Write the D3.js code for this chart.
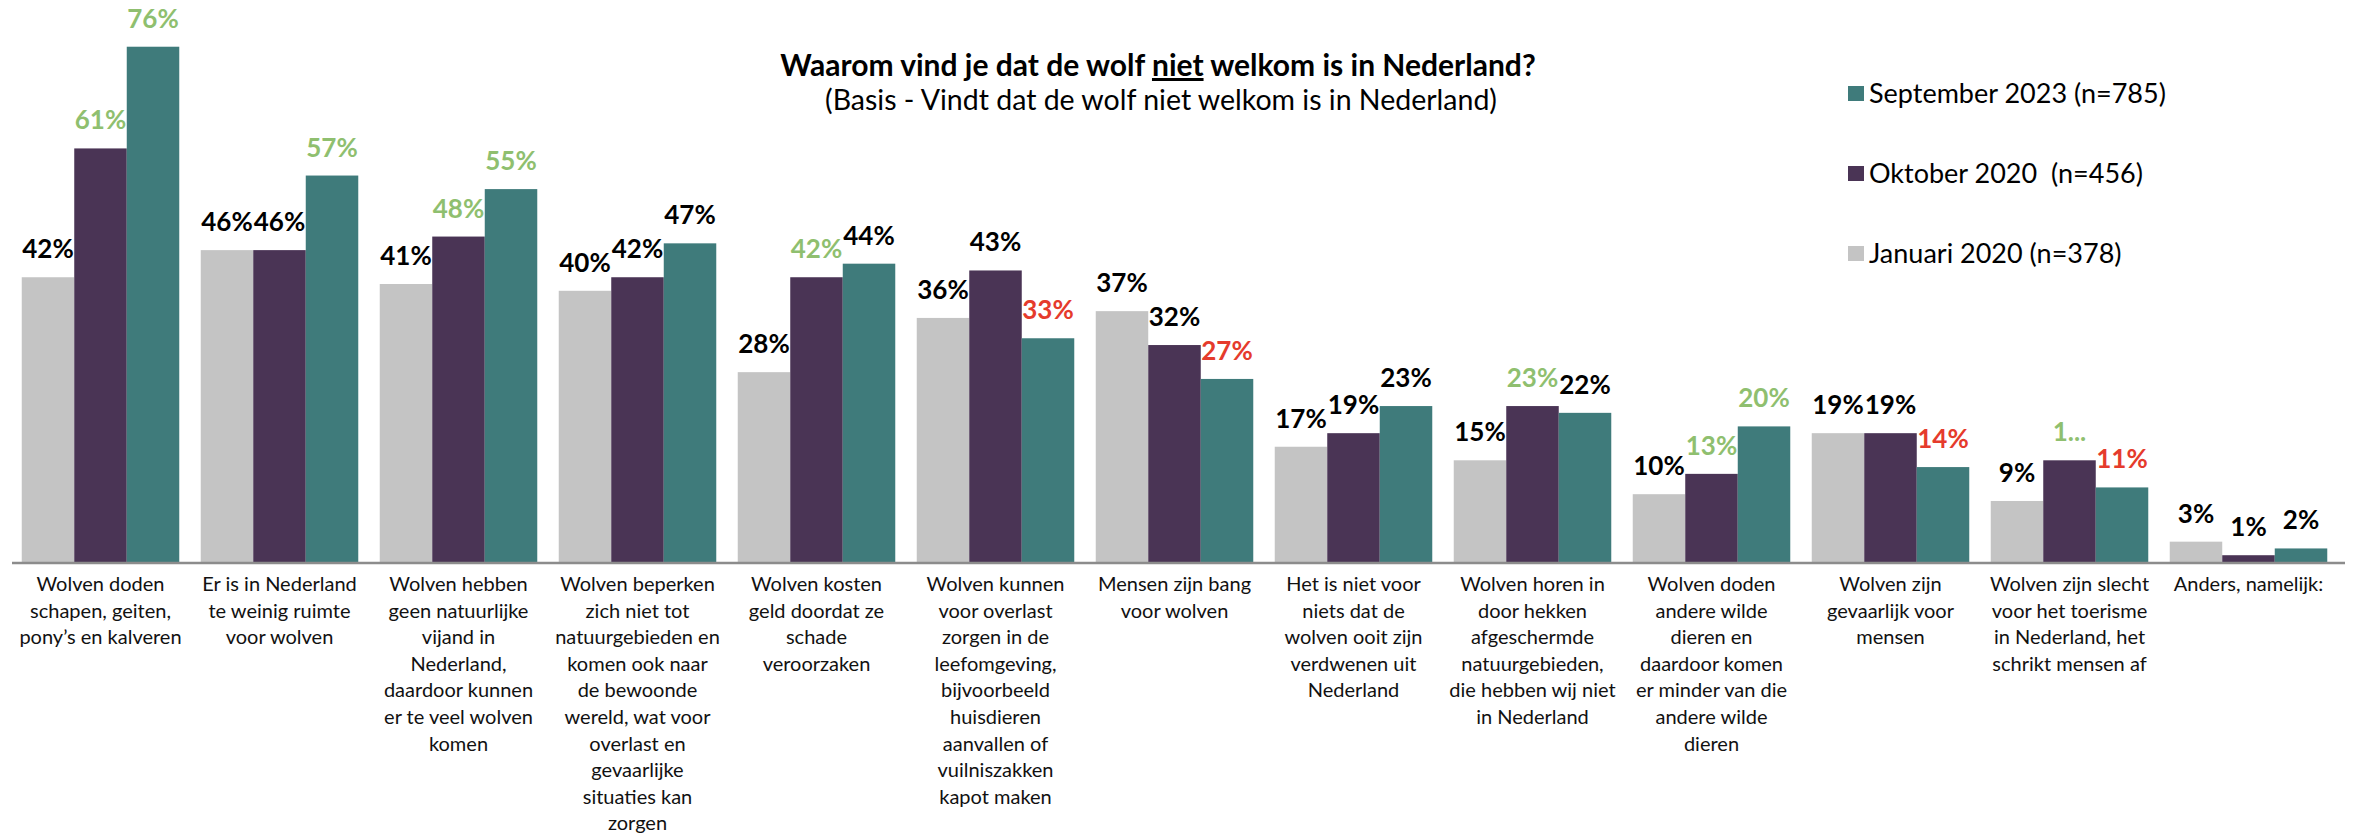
<!DOCTYPE html>
<html><head><meta charset="utf-8">
<script src="https://cdn.jsdelivr.net/npm/d3@7"></script>
<style>
html,body{margin:0;padding:0;background:#fff;}
svg{display:block;font-family:Lato, "Open Sans", sans-serif;}
.leg text{white-space:pre;}
</style></head>
<body>
<svg id="chart" width="2356" height="838"></svg>
<script>
const categories = [
  ["Wolven doden","schapen, geiten,","pony’s en kalveren"],
  ["Er is in Nederland","te weinig ruimte","voor wolven"],
  ["Wolven hebben","geen natuurlijke","vijand in","Nederland,","daardoor kunnen","er te veel wolven","komen"],
  ["Wolven beperken","zich niet tot","natuurgebieden en","komen ook naar","de bewoonde","wereld, wat voor","overlast en","gevaarlijke","situaties kan","zorgen"],
  ["Wolven kosten","geld doordat ze","schade","veroorzaken"],
  ["Wolven kunnen","voor overlast","zorgen in de","leefomgeving,","bijvoorbeeld","huisdieren","aanvallen of","vuilniszakken","kapot maken"],
  ["Mensen zijn bang","voor wolven"],
  ["Het is niet voor","niets dat de","wolven ooit zijn","verdwenen uit","Nederland"],
  ["Wolven horen in","door hekken","afgeschermde","natuurgebieden,","die hebben wij niet","in Nederland"],
  ["Wolven doden","andere wilde","dieren en","daardoor komen","er minder van die","andere wilde","dieren"],
  ["Wolven zijn","gevaarlijk voor","mensen"],
  ["Wolven zijn slecht","voor het toerisme","in Nederland, het","schrikt mensen af"],
  ["Anders, namelijk:"]
];
const seriesNames = ["Januari 2020 (n=378)", "Oktober 2020  (n=456)", "September 2023 (n=785)"];
const jan2020 = [42,46,41,40,28,36,37,17,15,10,19,9,3];
const okt2020 = [61,46,48,42,42,43,32,19,23,13,19,15,1];
const sep2023 = [76,57,55,47,44,33,27,23,22,20,14,11,2];
// label marks: k = no change, g = significant increase, r = significant decrease
const jan2020Marks = ["k","k","k","k","k","k","k","k","k","k","k","k","k"];
const okt2020Marks = ["g","k","g","k","g","k","k","k","g","g","k","g","k"];
const sep2023Marks = ["g","g","g","k","k","r","r","k","k","g","r","r","k"];
// label texts as shown (one is truncated in the original)
const okt2020Labels = ["61%","46%","48%","42%","42%","43%","32%","19%","23%","13%","19%","1...","1%"];

const colors = ["#c4c4c4", "#4a3455", "#3f7b7b"];
const markColors = {k:"#000000", g:"#8fbf6f", r:"#e53b2c"};

const svg = d3.select("#chart");
const baseY = 562;
const x0 = d3.scaleBand().domain(d3.range(categories.length)).range([11, 2338]).paddingInner(0.12).paddingOuter(0.06);
const x1 = d3.scaleBand().domain([0,1,2]).range([0, x0.bandwidth()]);
const y = d3.scaleLinear().domain([0, 80]).range([baseY, baseY - 80*6.78]);

const seriesVals = [jan2020, okt2020, sep2023];
const seriesMarks = [jan2020Marks, okt2020Marks, sep2023Marks];
const data = [];
categories.forEach((c, i) => {
  seriesVals.forEach((vals, s) => {
    data.push({i, s, v: vals[i], mark: seriesMarks[s][i],
      label: s === 1 ? okt2020Labels[i] : vals[i] + "%"});
  });
});

const g = svg.append("g");
g.selectAll("rect.bar").data(data).join("rect")
  .attr("class","bar")
  .attr("x", d => x0(d.i) + x1(d.s))
  .attr("width", x1.bandwidth())
  .attr("y", d => y(d.v))
  .attr("height", d => baseY - y(d.v))
  .attr("fill", d => colors[d.s]);

g.selectAll("text.val").data(data).join("text")
  .attr("class","val")
  .attr("x", d => x0(d.i) + x1(d.s) + x1.bandwidth()/2)
  .attr("y", d => y(d.v) - 19)
  .attr("text-anchor","middle")
  .attr("font-size", 26)
  .attr("font-weight", 700)
  .attr("fill", d => markColors[d.mark])
  .text(d => d.label);

// axis line
svg.append("line").attr("x1", 12).attr("x2", 2345).attr("y1", baseY+1).attr("y2", baseY+1)
  .attr("stroke", "#8c8c8c").attr("stroke-width", 2.5);

// category labels
const cat = svg.selectAll("text.cat").data(categories).join("text")
  .attr("class","cat")
  .attr("text-anchor","middle")
  .attr("font-size", 20)
  .attr("fill","#111");
cat.each(function(lines, i){
  const t = d3.select(this);
  lines.forEach((ln, k) => {
    t.append("tspan").attr("x", x0(i) + x0.bandwidth()/2).attr("y", 591 + k*26.6).text(ln);
  });
});

// title
const title = svg.append("text").attr("x", 1158).attr("y", 76).attr("text-anchor","middle")
  .attr("font-size", 30).attr("font-weight", 700).attr("fill","#000");
title.append("tspan").text("Waarom vind je dat de wolf ");
title.append("tspan").attr("text-decoration","underline").text("niet");
title.append("tspan").text(" welkom is in Nederland?");
svg.append("text").attr("x", 1161).attr("y", 110).attr("text-anchor","middle")
  .attr("font-size", 28.5).attr("fill","#000")
  .text("(Basis - Vindt dat de wolf niet welkom is in Nederland)");

// legend
const legendOrder = [2,1,0];
const lg = svg.selectAll("g.leg").data(legendOrder).join("g").attr("class","leg")
  .attr("transform", (d,k) => `translate(1848, ${86 + k*80})`);
lg.append("rect").attr("width", 16).attr("height", 15).attr("fill", d => colors[d]);
lg.append("text").attr("x", 21).attr("y", 7.5).attr("dy","0.35em").attr("font-size", 27)
  .attr("fill","#000").text(d => seriesNames[d]);
</script>
</body></html>
